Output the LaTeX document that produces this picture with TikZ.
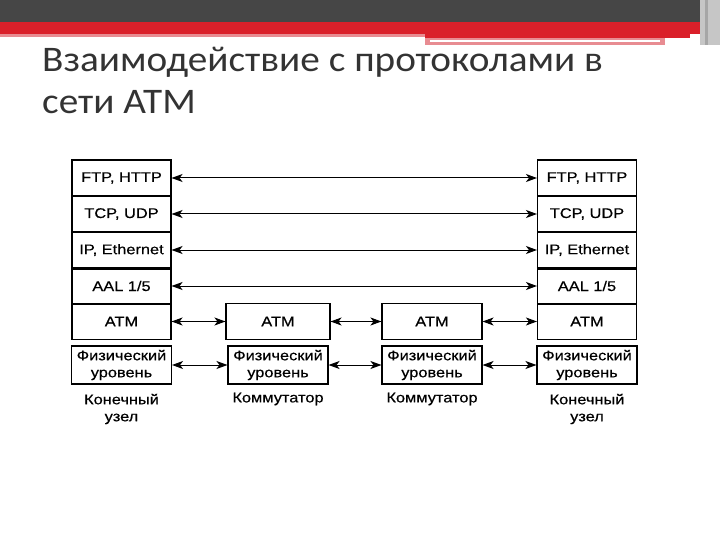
\documentclass[tikz,border=0pt]{standalone}
\usepackage{fontspec}
\setmainfont{Liberation Sans}[FakeStretch=1.17, FakeBold=0.5]
\newfontfamily\titlefont{Carlito}[FakeStretch=1.09]
\usepackage{tikz}
\usetikzlibrary{arrows.meta,positioning,calc}
\definecolor{bardark}{RGB}{70,70,70}
\definecolor{barred}{RGB}{218,32,42}
\definecolor{barpink}{RGB}{232,140,146}
\definecolor{titlegray}{RGB}{51,51,51}

\begin{document}
\begin{tikzpicture}[
  x=1pt, y=-1pt,
  layer/.style={draw, line width=1.1pt, minimum width=99pt, minimum height=36pt, inner sep=0pt, font=\fontsize{14}{16}\selectfont},
  phys/.style={draw, line width=1.1pt, minimum width=100pt, minimum height=38pt, inner sep=0pt, align=center, font=\fontsize{14}{17}\selectfont},
  caption/.style={align=center, font=\fontsize{14}{17}\selectfont},
  arrow/.style={{Stealth[length=11pt,width=8pt,inset=3pt]}-{Stealth[length=11pt,width=8pt,inset=3pt]}, line width=1pt}
]
\useasboundingbox (0,0) rectangle (720,540);

% slide header
\fill[bardark] (0,0) rectangle (700,22);
\fill[barred] (0,22) rectangle (700,34);
\fill[barpink] (0,34) rectangle (425,37);
\fill[barred] (425,34) rectangle (690,38);
\fill[barpink] (425,38) rectangle (665,45);
\fill[white] (430,40) rectangle (660,42);
\fill[gray!45] (700,0) rectangle (720,45);
\fill[gray!70] (705,0) rectangle (708,45);

\node[anchor=base west, align=left, inner sep=0pt, text=titlegray, font=\titlefont\fontsize{36}{42}\selectfont] (title) at (42,114)
  {Взаимодействие с протоколами в\\сети ATM};

% end node, left
\node[layer] (lftp) at (121.5,178) {FTP, HTTP};
\node[layer] (ltcp) at (121.5,214) {TCP, UDP};
\node[layer] (lip)  at (121.5,250) {IP, Ethernet};
\node[layer] (laal) at (121.5,286) {AAL 1/5};
\node[layer] (latm) at (121.5,321.5) {ATM};
\node[phys]  (lphy) at (121.5,365) {Физический\\уровень};
\draw[line width=3pt] (lip.south west) -- (lip.south east);

% switches
\node[layer, minimum width=104pt] (s1atm) at (278,321.5) {ATM};
\node[phys] (s1phy) at (278,365) {Физический\\уровень};
\node[layer, minimum width=100pt] (s2atm) at (432,321.5) {ATM};
\node[phys] (s2phy) at (432,365) {Физический\\уровень};

% end node, right
\node[layer] (rftp) at (587,178) {FTP, HTTP};
\node[layer] (rtcp) at (587,214) {TCP, UDP};
\node[layer] (rip)  at (587,250) {IP, Ethernet};
\node[layer] (raal) at (587,286) {AAL 1/5};
\node[layer] (ratm) at (587,321.5) {ATM};
\node[phys]  (rphy) at (587,365) {Физический\\уровень};
\draw[line width=3pt] (rip.south west) -- (rip.south east);

% captions
\node[caption] (lcap)  at (121.5,409) {Конечный\\узел};
\node[caption] (s1cap) at (278,399) {Коммутатор};
\node[caption] (s2cap) at (432,399) {Коммутатор};
\node[caption] (rcap)  at (587,409) {Конечный\\узел};

% peer links
\draw[arrow] (lftp) -- (rftp);
\draw[arrow] (ltcp) -- (rtcp);
\draw[arrow] (lip) -- (rip);
\draw[arrow] (laal) -- (raal);
\draw[arrow] (latm) -- (s1atm);
\draw[arrow] (s1atm) -- (s2atm);
\draw[arrow] (s2atm) -- (ratm);
\draw[arrow] (lphy) -- (s1phy);
\draw[arrow] (s1phy) -- (s2phy);
\draw[arrow] (s2phy) -- (rphy);

\end{tikzpicture}
\end{document}
